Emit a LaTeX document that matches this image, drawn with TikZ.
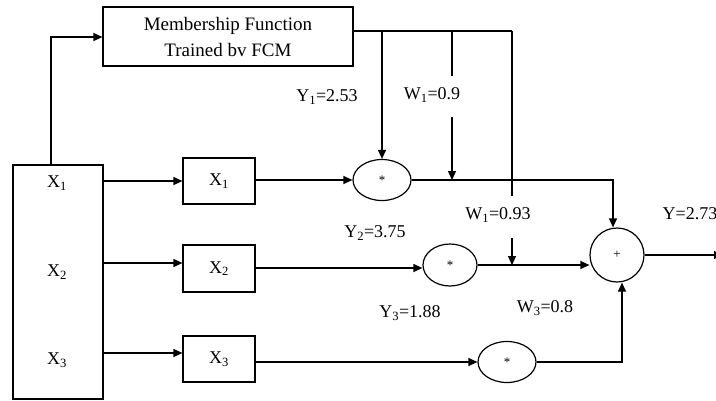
\documentclass[tikz,border=0pt]{standalone}
\usepackage{fontspec}
\setmainfont{Liberation Serif}
\usetikzlibrary{arrows.meta,shapes.geometric}
\begin{document}
\begin{tikzpicture}[x=1pt,y=-1pt,line width=1.2pt,
  box/.style={draw,rectangle,inner sep=0pt},
  lab/.style={font=\fontsize{18}{20}\selectfont,inner sep=0pt},
  arr/.style={-{Triangle[length=9pt,width=8pt]}},
  ell/.style={draw,ellipse,inner sep=0pt,minimum width=58pt,minimum height=41pt,font=\fontsize{13}{14}\selectfont}]
\useasboundingbox (0,0) rectangle (716,400);
% boxes
\node[box,minimum width=250pt,minimum height=59pt,align=center,font=\fontsize{19}{26}\selectfont] (mf) at (228,36.5) {Membership Function\\Trained bv FCM};
\node[box,minimum width=90pt,minimum height=234pt] (big) at (58,282) {};
\node[lab] (bx1) at (57,183) {X\textsubscript{1}};
\node[lab] (bx2) at (57,272) {X\textsubscript{2}};
\node[lab] (bx3) at (57,360) {X\textsubscript{3}};
\node[box,lab,minimum width=72pt,minimum height=46pt] (x1) at (219,181) {X\textsubscript{1}};
\node[box,lab,minimum width=72pt,minimum height=47pt] (x2) at (219,268.5) {X\textsubscript{2}};
\node[box,lab,minimum width=72pt,minimum height=46pt] (x3) at (219,359) {X\textsubscript{3}};
% ellipses and sum
\node[ell] (e1) at (382,180) {*};
\node[ell,minimum width=54pt,minimum height=42pt] (e2) at (450,265) {*};
\node[ell] (e3) at (507,362) {*};
\node[draw,circle,minimum size=54pt,inner sep=0pt,font=\fontsize{13}{14}\selectfont] (plus) at (617,255) {+};
% coordinates
\coordinate (t0) at (mf.east |- 0,31);
\coordinate (j1) at (382,31);
\coordinate (j2) at (452,31);
\coordinate (j3) at (512,31);
\coordinate (j2a) at (452,76);
\coordinate (j2b) at (452,117);
\coordinate (j2c) at (452,180);
\coordinate (j3a) at (512,196);
\coordinate (j3b) at (512,238);
\coordinate (j3c) at (512,265);
\coordinate (out) at (723,255);
% connectors
\draw[arr] (big.north -| 51,0) |- (mf.west |- 0,37);
\draw[arr] (big.east |- x1.west) -- (x1.west);
\draw[arr] (big.east |- 0,263) -- (x2.west |- 0,263);
\draw[arr] (big.east |- 0,353) -- (x3.west |- 0,353);
\draw[arr] (x1.east |- e1.west) -- (e1.west);
\draw[arr] (x2.east |- 0,268) -- (e2.west |- 0,268);
\draw[arr] (x3.east |- e3.west) -- (e3.west);
\draw (t0) -- (j3);
\draw[arr] (j1) -- (e1.north);
\draw (j2) -- (j2a);
\draw[arr] (j2b) -- (j2c);
\draw (j3) -- (j3a);
\draw[arr] (j3b) -- (j3c);
\draw[arr] (e1.east) -| ([xshift=-4pt]plus.north);
\draw[arr] (e2.east) -- (plus.west |- e2.east);
\draw[arr] (e3.east) -| ([xshift=5pt]plus.south);
\draw[arr] (plus.east) -- (out);
% labels
\node[lab] (ly1) at (327,97) {Y\textsubscript{1}=2.53};
\node[lab] (lw1) at (432,95) {W\textsubscript{1}=0.9};
\node[lab] (ly2) at (375,233) {Y\textsubscript{2}=3.75};
\node[lab] (lw2) at (498,215) {W\textsubscript{1}=0.93};
\node[lab] (ly3) at (410,313) {Y\textsubscript{3}=1.88};
\node[lab] (lw3) at (545,308) {W\textsubscript{3}=0.8};
\node[lab,anchor=west] (ly) at (662,214) {Y=2.73};
\end{tikzpicture}
\end{document}
